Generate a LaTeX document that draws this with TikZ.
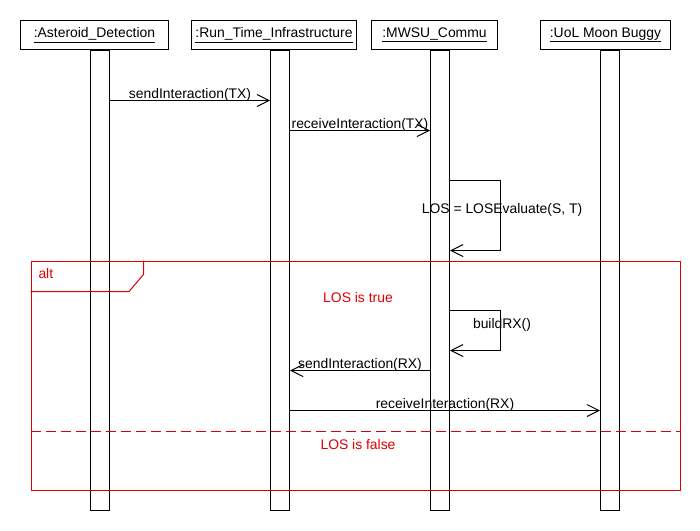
\documentclass[tikz,border=0pt]{standalone}
\usepackage{fontspec}
\setmainfont{Liberation Sans}
\usetikzlibrary{arrows.meta}
\definecolor{altred}{RGB}{220,0,0}
\begin{document}
\begin{tikzpicture}[x=1pt, y=-1pt, line width=1pt,
  font=\fontsize{13.9}{16}\selectfont,
  head/.style={draw, fill=white, minimum height=29pt, inner sep=0pt},
  bar/.style={draw, fill=white, minimum width=19pt, minimum height=460pt, inner sep=0pt, anchor=north},
  msg/.style={-{Straight Barb[length=12pt,width=12pt]}},
  lbl/.style={anchor=base, inner sep=0pt, yshift=2pt},
  frame/.style={draw=altred, color=altred},
  separator/.style={altred, line width=1.2pt, dash pattern=on 10pt off 5pt},
  guard/.style={text=altred, inner sep=0pt}]
\useasboundingbox (0,0) rectangle (700,530);

% lifeline heads
\node[head, minimum width=148pt] (hA) at (94.5,35)  {\underline{:Asteroid\_Detection}};
\node[head, minimum width=165pt] (hR) at (274,35)   {\underline{:Run\_Time\_Infrastructure}};
\node[head, minimum width=126pt] (hM) at (434.5,35) {\underline{:MWSU\_Commu}};
\node[head, minimum width=130pt] (hU) at (605.5,35) {\underline{:UoL Moon Buggy}};

% activation bars
\node[bar] (bA) at (100,49.5) {};
\node[bar] (bR) at (280,49.5) {};
\node[bar] (bM) at (440,49.5) {};
\node[bar] (bU) at (610,49.5) {};

% alt combined fragment
\node[frame, minimum width=649pt, minimum height=229pt, anchor=north west, inner sep=0pt] (alt) at (30.5,260.5) {};
\draw[frame] ([xshift=113pt]alt.north west) -- ++(0,14) -- ++(-14.5,17) -- (alt.west |- 0,291.5);
\node[guard, anchor=base west] (altlbl) at (38,278) {alt};
\node[guard] (gtrue) at (358,298) {LOS is true};
\draw[separator] (alt.west |- 0,431.5) -- (alt.east |- 0,431.5);
\node[guard] (gfalse) at (358,445) {LOS is false};

% messages
\draw[msg] (bA.east |- 0,100.5) -- node[lbl] {sendInteraction(TX)} (bR.west |- 0,100.5);
\draw[msg] (bR.east |- 0,130.5) -- node[lbl] {receiveInteraction(TX)} (bM.west |- 0,130.5);
\draw[msg] (bM.east |- 0,180.5) -| (500.5,250.5) -- (bM.east |- 0,250.5);
\node[anchor=base, inner sep=0pt] (lose) at (502,213) {LOS = LOSEvaluate(S, T)};
\draw[msg] (bM.east |- 0,310.5) -| (500.5,350.5) -- (bM.east |- 0,350.5);
\node[anchor=base, inner sep=0pt] (build) at (502,328) {buildRX()};
\draw[msg] (bM.west |- 0,370.5) -- node[lbl] {sendInteraction(RX)} (bR.east |- 0,370.5);
\draw[msg] (bR.east |- 0,410.5) -- node[lbl] {receiveInteraction(RX)} (bU.west |- 0,410.5);
\end{tikzpicture}
\end{document}
